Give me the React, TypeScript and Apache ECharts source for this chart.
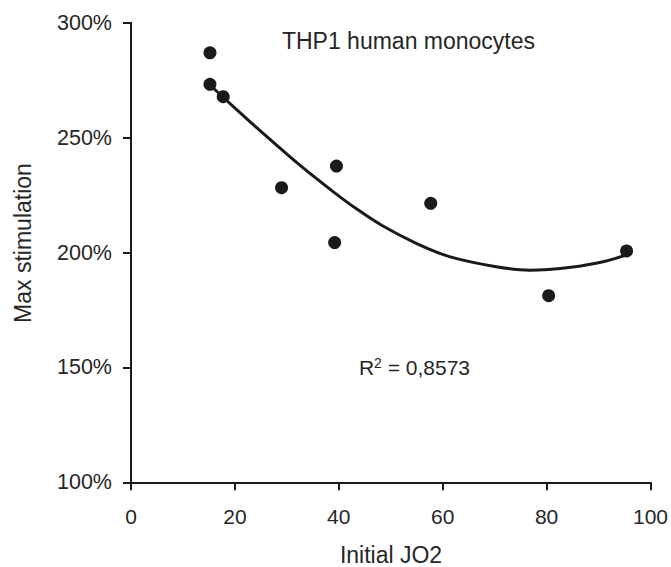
import React, { useEffect, useRef } from "react";
import * as echarts from "echarts";

const initialJO2 = [15.2, 15.2, 17.75, 28.98, 39.55, 39.2, 57.7, 80.4, 95.4];
const maxStimulation = [286.9, 273.2, 267.8, 228.2, 237.6, 204.3, 221.4, 181.2, 200.7];

const trendX = [15.2, 19.7, 26.1, 32.5, 38.9, 43.4, 48.5, 54.9, 61.3, 70.3, 76.7, 85.1, 91.5, 95.4];
const trendY = [272.9, 263.5, 250.5, 238.0, 226.5, 219.0, 211.5, 204.0, 198.2, 193.8, 192.3, 193.7, 196.3, 199.0];

const xTicks = [0, 20, 40, 60, 80, 100];
const yTicks = [100, 150, 200, 250, 300];

const FONT = "'Liberation Sans', Arial, Helvetica, sans-serif";
const INK = "#1a1a1a";
const TEXT = "#262626";

export default function App() {
  const ref = useRef<HTMLDivElement>(null);
  useEffect(() => {
    if (!ref.current) return;
    const chart = echarts.init(ref.current, undefined, { renderer: "svg" });
    const axisCommon = {
      axisLine: { show: true, onZero: false, lineStyle: { color: INK, width: 2 } },
      axisTick: { show: true, inside: false, length: 8, lineStyle: { color: INK, width: 2 } },
      splitLine: { show: false },
    };
    chart.setOption({
      animation: false,
      backgroundColor: "#ffffff",
      grid: { left: 131, right: 20, top: 22.7, bottom: 84.7, containLabel: false },
      xAxis: {
        type: "value",
        min: xTicks[0],
        max: xTicks[xTicks.length - 1],
        interval: 20,
        ...axisCommon,
        axisLabel: { color: TEXT, fontFamily: FONT, fontSize: 21, margin: 24 },
      },
      yAxis: {
        type: "value",
        min: yTicks[0],
        max: yTicks[yTicks.length - 1],
        interval: 50,
        ...axisCommon,
        axisLabel: { color: TEXT, fontFamily: FONT, fontSize: 21.5, margin: 19, formatter: "{value}%" },
      },
      graphic: [
        {
          type: "text",
          x: 391,
          y: 555,
          style: { text: "Initial JO2", fill: TEXT, font: `23px ${FONT}`, textAlign: "center", textVerticalAlign: "middle" },
        },
        {
          type: "text",
          x: 23,
          y: 243,
          rotation: Math.PI / 2,
          style: { text: "Max stimulation", fill: TEXT, font: `23px ${FONT}`, textAlign: "center", textVerticalAlign: "middle" },
        },
        {
          type: "text",
          x: 408.5,
          y: 41,
          style: { text: "THP1 human monocytes", fill: TEXT, font: `23px ${FONT}`, textAlign: "center", textVerticalAlign: "middle" },
        },
        {
          type: "text",
          x: 414.5,
          y: 367,
          style: {
            text: "{r|R}{s|2}{r| = 0,8573}",
            textAlign: "center",
            textVerticalAlign: "middle",
            rich: {
              r: { fill: TEXT, fontFamily: FONT, fontSize: 21, verticalAlign: "bottom" },
              s: { fill: TEXT, fontFamily: FONT, fontSize: 14, verticalAlign: "top", padding: [0, 0, 8, 0] },
            },
          },
        },
      ],
      series: [
        {
          type: "line",
          data: trendX.map((x, i) => [x, trendY[i]]),
          smooth: 0.3,
          showSymbol: false,
          symbol: "none",
          lineStyle: { color: INK, width: 3 },
          z: 2,
        },
        {
          type: "scatter",
          data: initialJO2.map((x, i) => [x, maxStimulation[i]]),
          symbol: "circle",
          symbolSize: 13,
          itemStyle: { color: INK, opacity: 1 },
          z: 3,
        },
      ],
    });
    return () => chart.dispose();
  }, []);
  return <div ref={ref} style={{ position: "fixed", left: 0, top: 0, width: 671, height: 567 }} />;
}
